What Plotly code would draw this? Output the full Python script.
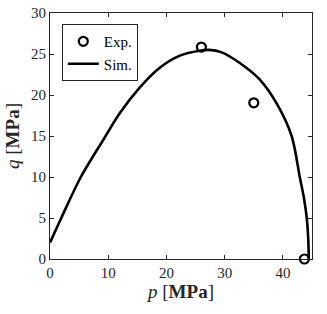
import plotly.graph_objects as go

# Experimental points
p_exp = [26.0, 35.0, 43.7]
q_exp = [25.85, 19.05, 0.0]

# Simulated yield surface
p_sim = [0.0, 2.0, 5.3, 9.3, 12.0, 15.4, 18.8, 22.3, 25.7, 27.3, 29.5, 32.6,
         36.0, 38.9, 41.5, 42.9, 43.6, 44.1, 44.35, 44.45]
q_sim = [2.0, 5.1, 10.0, 14.7, 17.8, 20.9, 23.3, 24.8, 25.4, 25.5, 25.2, 23.9,
         21.9, 19.0, 15.0, 10.0, 7.5, 5.0, 2.5, 0.0]

x_ticks = [0, 10, 20, 30, 40]
y_ticks = [0, 5, 10, 15, 20, 25, 30]

FONT = "Liberation Serif"

fig = go.Figure()
fig.add_trace(go.Scatter(
    x=p_exp, y=q_exp, mode="markers", name="Exp.",
    marker=dict(symbol="circle-open", size=9, color="black", line=dict(width=2.2, color="black")),
    cliponaxis=False,
))
fig.add_trace(go.Scatter(
    x=p_sim, y=q_sim, mode="lines", name="Sim.",
    line=dict(color="black", width=2.6, shape="spline", smoothing=0.9),
    cliponaxis=False,
))

axis_common = dict(
    showline=True, linecolor="#262626", linewidth=1, mirror="ticks",
    ticks="inside", ticklen=4, tickcolor="#262626", tickwidth=1,
    showgrid=False, zeroline=False, automargin=False,
    tickfont=dict(family=FONT, size=15, color="#262626"),
)

fig.update_layout(
    width=327, height=314,
    margin=dict(l=50, r=15, t=13, b=55),
    paper_bgcolor="white", plot_bgcolor="white",
    font=dict(family=FONT, color="#262626"),
    showlegend=True,
    legend=dict(
        x=0.045, y=0.955, xanchor="left", yanchor="top",
        bgcolor="white", bordercolor="#262626", borderwidth=1,
        font=dict(family=FONT, size=15, color="black"),
        tracegroupgap=0, itemwidth=31,
    ),
    xaxis=dict(range=[0, 45], tickvals=x_ticks,
               title=dict(text="<i>p</i> [<b>MPa</b>]", font=dict(family=FONT, size=19), standoff=4),
               **axis_common),
    yaxis=dict(range=[0, 30], tickvals=y_ticks,
               title=dict(text="<i>q</i> [<b>MPa</b>]", font=dict(family=FONT, size=19), standoff=6),
               **axis_common),
)

# remove the browser's default 8px body margin so the figure sits at the page origin
fig.write_html("out.html", config={"displayModeBar": False},
               post_script="document.body.style.margin='0px';")
